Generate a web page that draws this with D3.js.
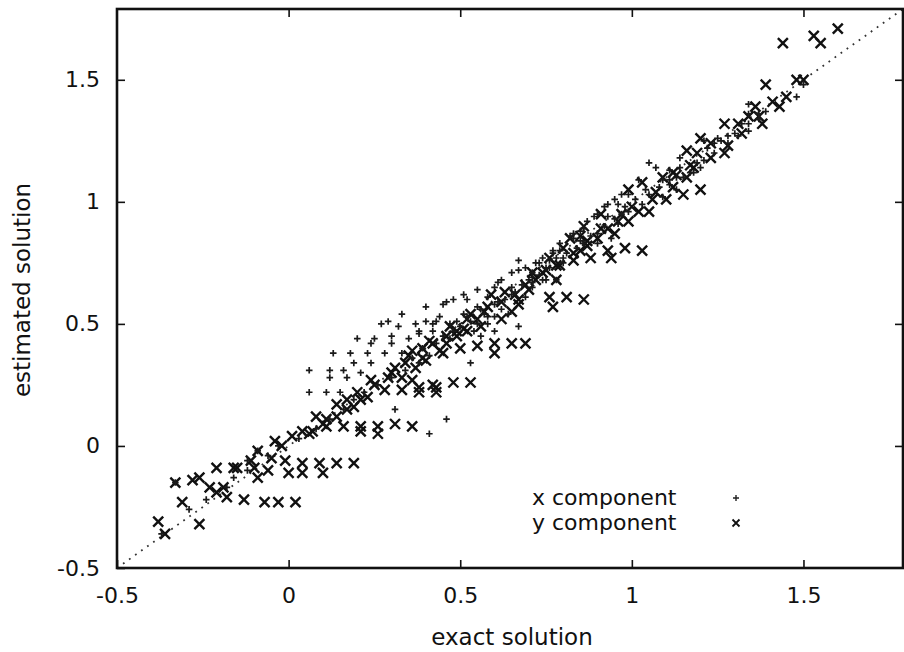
<!DOCTYPE html>
<html>
  <head>
    <meta charset="UTF-8">
    <title>estimated vs exact solution</title>
    <style>
      body { margin: 0; background: #fff; }
      text { font-family: "DejaVu Sans", sans-serif; fill: #111; }
    </style>
  </head>
  <body>
    <script src="https://d3js.org/d3.v7.min.js"></script>
    <svg width="904" height="652" id="chart"></svg>
    <script>
      // tick values, same on both axes
      var xTicks = [-0.5, 0, 0.5, 1, 1.5];
      var yTicks = [-0.5, 0, 0.5, 1, 1.5];

      // [exact, estimated] pairs
      var xComponent = [
        [-0.33,-0.15],[-0.37,-0.36],[-0.12,-0.10],[-0.18,-0.17],[-0.09,-0.02],[-0.12,-0.06],[-0.24,-0.22],[-0.29,-0.26],
        [-0.16,-0.13],[-0.06,-0.04],[-0.03,0.00],[0.03,0.03],[0.08,0.07],[0.12,0.11],[0.16,0.15],[0.19,0.19],
        [0.22,0.22],[0.26,0.25],[0.30,0.28],[0.34,0.31],[0.38,0.34],[0.41,0.37],
        [0.33,0.54],[0.40,0.57],[0.45,0.58],[0.27,0.50],[0.32,0.49],[0.37,0.50],[0.40,0.51],[0.43,0.51],
        [0.20,0.44],[0.25,0.44],[0.30,0.45],[0.35,0.44],[0.38,0.46],[0.42,0.47],[0.13,0.38],[0.18,0.38],
        [0.23,0.38],[0.28,0.38],[0.33,0.38],[0.30,0.42],[0.06,0.31],[0.12,0.31],[0.16,0.31],[0.21,0.30],
        [0.12,0.28],[0.17,0.28],[0.06,0.22],[0.11,0.22],[0.15,0.22],[0.31,0.15],[0.41,0.05],[0.46,0.11],
        [0.19,0.34],[0.24,0.34],[0.24,0.42],[0.53,0.34],[0.29,0.51],[0.55,0.50],[0.60,0.47],[0.56,0.45],
        [0.46,0.59],[0.48,0.60],[0.51,0.62],[0.55,0.64],[0.60,0.65],[0.62,0.68],[0.67,0.76],[0.65,0.71],
        [0.69,0.73],[0.71,0.71],[0.73,0.75],[0.75,0.73],[0.77,0.79],[0.79,0.80],[0.80,0.75],[0.83,0.87],
        [0.85,0.88],[0.87,0.92],[0.90,0.95],[0.93,0.99],[0.95,1.01],[0.97,1.03],[0.67,0.49],[0.60,0.53],
        [0.51,0.54],[0.56,0.56],[0.49,0.51],[0.44,0.53],[0.78,0.68],[0.71,0.65],[0.65,0.62],[0.58,0.61],
        [0.52,0.60],[0.61,0.67],[0.67,0.72],[0.71,0.69],[0.76,0.76],[0.78,0.77],[0.79,0.83],[0.83,0.85],
        [0.42,0.50],[0.38,0.47],[0.47,0.50],[0.64,0.54],[0.58,0.53],[0.52,0.53],[0.55,0.57],[0.61,0.59],
        [0.65,0.65],[0.71,0.67],[0.75,0.68],[0.69,0.61],
        [1.07,1.14],[1.11,1.09],[1.13,1.05],[1.02,1.09],[1.04,1.05],[0.99,1.03],[0.96,0.99],[0.92,0.98],
        [0.89,0.94],[0.93,0.94],[0.96,0.91],[0.97,0.95],[0.86,0.89],[0.82,0.86],[0.77,0.80],[0.74,0.77],
        [0.72,0.75],[0.81,0.79],[0.90,0.83],[0.85,0.84],[0.94,0.85],[0.99,0.96],[1.03,0.99],[1.09,1.02],
        [1.13,1.10],[1.17,1.12],[1.05,1.16],[1.50,1.48],[1.48,1.43],[1.37,1.36],[1.34,1.36],[1.34,1.29],
        [1.31,1.27],[1.28,1.27],[1.26,1.25],[1.24,1.24],[1.22,1.22],[1.21,1.17],[1.14,1.14],[1.11,1.13],
        [1.18,1.12],[1.19,1.16],[1.30,1.28],[1.39,1.37],[1.37,1.34],[1.32,1.32],[1.25,1.26],[1.14,1.18],
        [1.09,1.09],[1.21,1.25],[1.34,1.40],[1.34,1.32],
        [0.45,0.45],[0.48,0.47],[0.50,0.49],[0.53,0.51],[0.57,0.54],[0.60,0.58],[0.63,0.60],[0.66,0.63],
        [0.68,0.66],[0.70,0.68],[0.73,0.70],[0.76,0.73],[0.80,0.77],[0.84,0.81],[0.88,0.86],[0.92,0.90],
        [0.95,0.93],[0.98,0.98],[1.01,1.01],[1.05,1.03],[1.08,1.06],[1.11,1.07],[1.15,1.10],[1.20,1.14],
        [1.24,1.20],[1.28,1.24],[0.36,0.36],[0.39,0.40],[0.43,0.42],[0.47,0.44],[0.54,0.47],[0.58,0.50],
        [0.62,0.56],[0.74,0.68],[0.86,0.83],[0.90,0.87]
      ];

      var yComponent = [
        [-0.38,-0.31],[-0.36,-0.36],[-0.31,-0.23],[-0.26,-0.32],[-0.33,-0.15],[-0.28,-0.14],[-0.26,-0.13],[-0.21,-0.09],
        [-0.23,-0.17],[-0.21,-0.19],[-0.19,-0.17],[-0.18,-0.21],[-0.16,-0.09],[-0.15,-0.09],[-0.13,-0.22],[-0.07,-0.23],
        [-0.03,-0.23],[0.02,-0.23],[-0.11,-0.06],[-0.10,-0.09],[-0.09,-0.13],[-0.09,-0.02],[-0.05,-0.05],[-0.01,-0.06],
        [-0.06,-0.10],[0.00,-0.11],[0.04,-0.07],[0.04,-0.11],[-0.04,0.02],[-0.02,0.00],[0.01,0.04],[0.04,0.06],
        [0.09,-0.07],[0.10,-0.11],[0.14,-0.07],[0.19,-0.07],
        [0.07,0.06],[0.11,0.08],[0.16,0.08],[0.21,0.08],[0.21,0.06],[0.26,0.08],[0.26,0.05],[0.31,0.09],
        [0.36,0.08],[0.06,0.05],[0.08,0.12],[0.10,0.09],[0.14,0.17],[0.17,0.15],[0.20,0.22],[0.23,0.20],
        [0.21,0.19],[0.17,0.19],[0.28,0.23],[0.33,0.23],[0.38,0.24],[0.38,0.22],[0.43,0.24],[0.43,0.22],
        [0.24,0.27],[0.29,0.28],[0.33,0.28],[0.31,0.32],[0.37,0.32],[0.36,0.27],[0.42,0.25],[0.48,0.26],
        [0.53,0.26],[0.40,0.35],[0.44,0.39],[0.42,0.42],[0.45,0.38],[0.50,0.40],[0.55,0.41],[0.60,0.42],
        [0.60,0.38],[0.65,0.42],[0.69,0.42],[0.41,0.43],[0.39,0.36],[0.36,0.39],[0.34,0.34],[0.46,0.42],
        [0.49,0.47],[0.47,0.49],[0.53,0.54],[0.52,0.52],[0.57,0.55],[0.59,0.62],[0.63,0.63],[0.67,0.58],
        [0.76,0.61],[0.77,0.57],[0.81,0.61],[0.86,0.60],[0.74,0.71],[0.71,0.71],[0.76,0.77],[0.80,0.81],
        [0.83,0.76],[0.85,0.80],[0.88,0.77],[0.82,0.85],[0.85,0.86],[0.90,0.85],[0.86,0.90],[0.91,0.89],
        [0.95,0.87],[0.91,0.95],[0.96,0.92],[0.99,0.92],[0.93,0.80],[0.94,0.77],[0.98,0.81],[1.03,0.80],
        [0.99,1.05],[1.03,1.08],[1.02,0.96],[1.05,0.96],[1.06,1.01],[1.10,1.01],[1.12,1.12],[1.15,1.03],
        [1.17,1.15],[1.20,1.05],[1.09,1.10],[1.13,1.11],[1.16,1.10],[1.12,1.06],[1.18,1.14],[1.16,1.21],
        [1.19,1.20],[1.23,1.18],[1.27,1.20],[1.20,1.26],[1.23,1.24],[1.28,1.23],[1.27,1.32],[1.31,1.32],
        [1.34,1.35],[1.38,1.32],[1.36,1.39],[1.41,1.41],[1.43,1.39],[1.39,1.48],[1.45,1.43],[1.48,1.50],
        [1.50,1.50],[1.44,1.65],[1.53,1.68],[1.55,1.65],[1.60,1.71],[1.37,1.35],[1.32,1.28],
        [0.49,0.45],[0.56,0.49],[0.62,0.52],[0.67,0.60],[0.70,0.64],[0.65,0.55],[0.51,0.48],[0.79,0.74],
        [0.87,0.82],[0.78,0.68],[0.11,0.11],
        [0.46,0.45],[0.52,0.47],[0.55,0.52],[0.58,0.57],[0.62,0.59],[0.66,0.62],[0.69,0.66],[0.72,0.68],
        [0.75,0.72],[0.78,0.74],[0.83,0.79],[0.87,0.84],[0.93,0.89],[0.97,0.95],[1.00,0.98],[1.07,1.04],
        [0.35,0.37],[0.39,0.40],[0.30,0.30],[0.25,0.25],[0.19,0.16],[0.14,0.12]
      ];

      var legendLabels = ["x component", "y component"];

      var svg = d3.select("#chart");
      // plot frame in pixels (window.top is reserved, so no plain "top")
      var frameL = 117, frameR = 903, frameT = 9, frameB = 568;

      var x = d3.scaleLinear().domain([-0.5, 1.79]).range([frameL, frameR]);
      var y = d3.scaleLinear().domain([-0.5, 1.79]).range([frameB, frameT]);

      // marker paths
      function cross(r) {
        return "M" + (-r) + "," + (-r) + "L" + r + "," + r + "M" + (-r) + "," + r + "L" + r + "," + (-r);
      }
      function plus(r) {
        return "M" + (-r) + ",0L" + r + ",0M0," + (-r) + "L0," + r;
      }

      // diagonal y = x
      svg.append("line")
        .attr("x1", x(-0.5)).attr("y1", y(-0.5))
        .attr("x2", x(1.79)).attr("y2", y(1.79))
        .attr("stroke", "#333")
        .attr("stroke-width", 1.8)
        .attr("stroke-dasharray", "1.8,5.6");

      // y component
      svg.append("g").selectAll("path")
        .data(yComponent)
        .enter().append("path")
        .attr("transform", function(d) { return "translate(" + x(d[0]) + "," + y(d[1]) + ")"; })
        .attr("d", cross(5))
        .attr("fill", "none")
        .attr("stroke", "#111")
        .attr("stroke-width", 2.4);

      // x component
      svg.append("g").selectAll("path")
        .data(xComponent)
        .enter().append("path")
        .attr("transform", function(d) { return "translate(" + x(d[0]) + "," + y(d[1]) + ")"; })
        .attr("d", plus(3.3))
        .attr("fill", "none")
        .attr("stroke", "#1a1a1a")
        .attr("stroke-width", 1.7);

      // axes, ticks pointing inwards on all four sides
      var fmt = function(d) { return String(d); };

      svg.append("g").attr("transform", "translate(0," + frameB + ")")
        .call(d3.axisBottom(x).tickValues(xTicks).tickSize(-8).tickPadding(19).tickFormat(fmt));
      svg.append("g").attr("transform", "translate(" + frameL + ",0)")
        .call(d3.axisLeft(y).tickValues(yTicks).tickSize(-8).tickPadding(17).tickFormat(fmt));
      svg.append("g").attr("transform", "translate(0," + frameT + ")")
        .call(d3.axisTop(x).tickValues(xTicks.slice(1)).tickSize(-8).tickFormat(""));
      svg.append("g").attr("transform", "translate(" + frameR + ",0)")
        .call(d3.axisRight(y).tickValues(yTicks.slice(1)).tickSize(-8).tickFormat(""));

      svg.selectAll(".domain").remove();
      svg.selectAll(".tick line").attr("stroke", "#111").attr("stroke-width", 1.6);
      svg.selectAll(".tick text")
        .attr("font-family", "DejaVu Sans, sans-serif")
        .attr("font-size", 22)
        .attr("fill", "#111");

      // frame
      svg.append("rect")
        .attr("x", frameL).attr("y", frameT)
        .attr("width", frameR - frameL).attr("height", frameB - frameT)
        .attr("fill", "none")
        .attr("stroke", "#111")
        .attr("stroke-width", 2.6);

      // axis titles
      svg.append("text")
        .attr("x", 512)
        .attr("y", 645)
        .attr("text-anchor", "middle")
        .attr("font-size", 23)
        .text("exact solution");

      svg.append("text")
        .attr("transform", "translate(30,290) rotate(-90)")
        .attr("text-anchor", "middle")
        .attr("font-size", 23)
        .text("estimated solution");

      // legend
      var leg = svg.append("g");
      leg.selectAll("text")
        .data(legendLabels)
        .enter().append("text")
        .attr("x", 532)
        .attr("y", function(d, i) { return 505 + i * 25; })
        .attr("font-size", 22)
        .text(function(d) { return d; });

      leg.append("path")
        .attr("transform", "translate(736,498)")
        .attr("d", plus(3))
        .attr("fill", "none").attr("stroke", "#222").attr("stroke-width", 1.4);
      leg.append("path")
        .attr("transform", "translate(736,523)")
        .attr("d", cross(3.5))
        .attr("fill", "none").attr("stroke", "#111").attr("stroke-width", 1.8);
    </script>
  </body>
</html>
